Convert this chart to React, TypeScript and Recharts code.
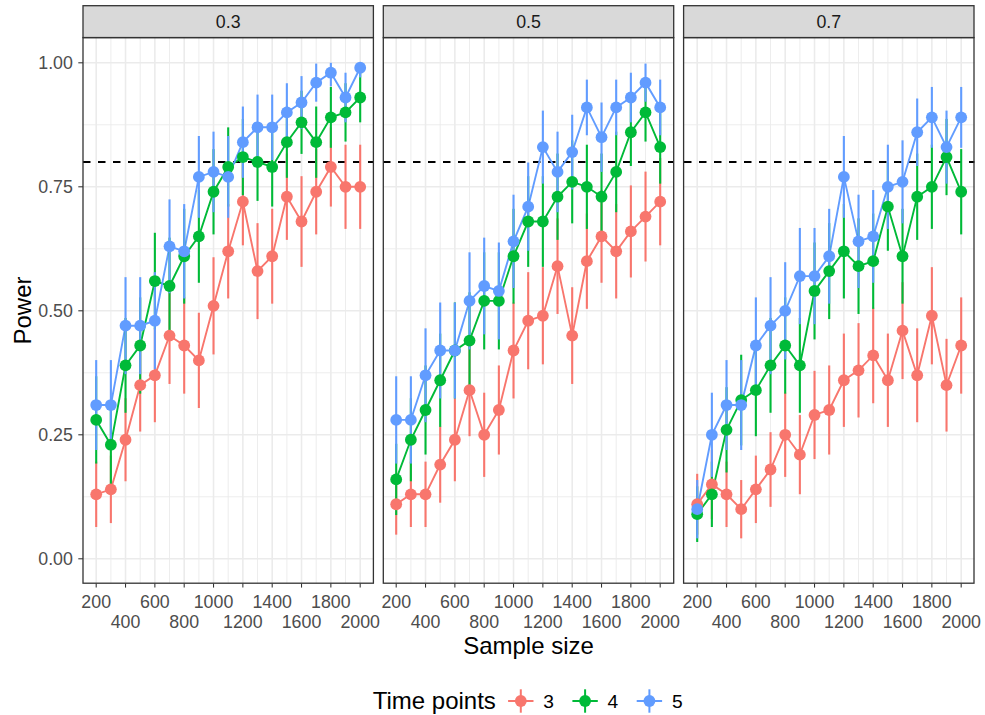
import React from 'react';
import { ComposedChart, Line, XAxis, YAxis, CartesianGrid, ReferenceLine, ErrorBar } from 'recharts';

// ---------------- data ----------------
const sampleSizes = [200, 300, 400, 500, 600, 700, 800, 900, 1000, 1100, 1200, 1300, 1400, 1500, 1600, 1700, 1800, 1900, 2000];
const facetLabels = ['0.3', '0.5', '0.7'];
const timePointLabels = ['3', '4', '5'];
const xTickValues = [200, 400, 600, 800, 1000, 1200, 1400, 1600, 1800, 2000];
const xMinorValues = [300, 500, 700, 900, 1100, 1300, 1500, 1700, 1900];
const yTickValues = [0, 0.25, 0.5, 0.75, 1];
const yMinorValues = [0.125, 0.375, 0.625, 0.875];
const powerTarget = 0.8;
const replications = 100; // simulations per cell -> 95% binomial interval for error bars

// facet 0.3
const power03tp3 = [0.13, 0.14, 0.24, 0.35, 0.37, 0.45, 0.43, 0.40, 0.51, 0.62, 0.72, 0.58, 0.61, 0.73, 0.68, 0.74, 0.79, 0.75, 0.75];
const power03tp4 = [0.28, 0.23, 0.39, 0.43, 0.56, 0.55, 0.61, 0.65, 0.74, 0.79, 0.81, 0.80, 0.79, 0.84, 0.88, 0.84, 0.89, 0.90, 0.93];
const power03tp5 = [0.31, 0.31, 0.47, 0.47, 0.48, 0.63, 0.62, 0.77, 0.78, 0.77, 0.84, 0.87, 0.87, 0.90, 0.92, 0.96, 0.98, 0.93, 0.99];
// facet 0.5
const power05tp3 = [0.11, 0.13, 0.13, 0.19, 0.24, 0.34, 0.25, 0.30, 0.42, 0.48, 0.49, 0.59, 0.45, 0.60, 0.65, 0.62, 0.66, 0.69, 0.72];
const power05tp4 = [0.16, 0.24, 0.30, 0.36, 0.42, 0.44, 0.52, 0.52, 0.61, 0.68, 0.68, 0.73, 0.76, 0.75, 0.73, 0.78, 0.86, 0.90, 0.83];
const power05tp5 = [0.28, 0.28, 0.37, 0.42, 0.42, 0.52, 0.55, 0.54, 0.64, 0.71, 0.83, 0.78, 0.82, 0.91, 0.85, 0.91, 0.93, 0.96, 0.91];
// facet 0.7
const power07tp3 = [0.11, 0.15, 0.13, 0.10, 0.14, 0.18, 0.25, 0.21, 0.29, 0.30, 0.36, 0.38, 0.41, 0.36, 0.46, 0.37, 0.49, 0.35, 0.43];
const power07tp4 = [0.09, 0.13, 0.26, 0.32, 0.34, 0.39, 0.43, 0.39, 0.54, 0.58, 0.62, 0.59, 0.60, 0.71, 0.61, 0.73, 0.75, 0.81, 0.74];
const power07tp5 = [0.10, 0.25, 0.31, 0.31, 0.43, 0.47, 0.50, 0.57, 0.57, 0.61, 0.77, 0.64, 0.65, 0.75, 0.76, 0.86, 0.89, 0.83, 0.89];

const facetSeries = [
  [power03tp3, power03tp4, power03tp5],
  [power05tp3, power05tp4, power05tp5],
  [power07tp3, power07tp4, power07tp5],
];

// ---------------- styles ----------------
const FONT = '"Liberation Sans", Arial, Helvetica, sans-serif';
const COLORS = ['#F8766D', '#00BA38', '#619CFF'];
const PANEL_LEFTS = [83, 383.3, 683.6];
const PANEL_W = 290.4;
const PLOT_TOP = 37.6;
const PLOT_H = 545.6;
const X_AXIS_H = 62;
const Y_AXIS_W = 83;
const STRIP_TOP = 5.7;
const TICK_FS = 17.8;
const TITLE_FS = 24;
const DOT_R = 5.9;

const keys = ['s3', 's4', 's5'];

function buildRows(series: number[][]) {
  return sampleSizes.map((n, i) => {
    const row: any = { n };
    series.forEach((vals, s) => {
      const p = vals[i];
      const half = 1.96 * Math.sqrt((p * (1 - p)) / replications);
      const lo = Math.max(0, p - half);
      const hi = Math.min(1, p + half);
      row[keys[s]] = p;
      row[keys[s] + 'e'] = [p - lo, hi - p];
    });
    return row;
  });
}

const XTick = (props: any) => {
  const { x, y, payload } = props;
  const v = payload.value as number;
  const firstRow = (v / 200) % 2 === 1;
  return (
    <text x={x} y={y + (firstRow ? 18.3 : 38.7)} textAnchor="middle" fill="#4D4D4D" fontSize={TICK_FS} fontFamily={FONT}>
      {v}
    </text>
  );
};

function FacetChart({ rows, left, showY }: { rows: any[]; left: number; showY: boolean }) {
  const chartLeft = showY ? left - Y_AXIS_W : left;
  const width = showY ? PANEL_W + Y_AXIS_W : PANEL_W;
  return (
    <div style={{ position: 'absolute', left: chartLeft, top: PLOT_TOP }}>
      <ComposedChart width={width} height={PLOT_H + X_AXIS_H} data={rows} margin={{ top: 0, right: 0, bottom: 0, left: 0 }}>
        <CartesianGrid stroke="#EBEBEB" strokeWidth={0.9} verticalValues={xMinorValues} horizontalValues={yMinorValues} />
        <CartesianGrid stroke="#EBEBEB" strokeWidth={1.6} verticalValues={xTickValues} horizontalValues={yTickValues} />
        <XAxis
          dataKey="n"
          type="number"
          domain={[110, 2090]}
          allowDataOverflow
          ticks={xTickValues}
          interval={0}
          axisLine={false}
          tickLine={{ stroke: '#333333', strokeWidth: 1.07 }}
          tickSize={4}
          tickMargin={2}
          height={X_AXIS_H}
          tick={(p: any) => <XTick {...p} />}
        />
        <YAxis
          type="number"
          domain={[-0.05, 1.05]}
          allowDataOverflow
          ticks={yTickValues}
          interval={0}
          hide={!showY}
          width={Y_AXIS_W}
          axisLine={false}
          tickLine={{ stroke: '#333333', strokeWidth: 1.07 }}
          tickSize={4.7}
          tickMargin={5.4}
          tickFormatter={(v: number) => v.toFixed(2)}
          tick={{ fill: '#4D4D4D', fontSize: TICK_FS, fontFamily: FONT }}
        />
        <ReferenceLine y={powerTarget} stroke="#000000" strokeWidth={1.9} strokeDasharray="7.5 7.5" />
        {keys.map((k, i) => (
          <Line key={'line' + k} type="linear" dataKey={k} stroke={COLORS[i]} strokeWidth={1.9} dot={false} activeDot={false} isAnimationActive={false} />
        ))}
        {keys.map((k, i) => (
          <Line key={'err' + k} type="linear" dataKey={k} stroke="none" dot={false} activeDot={false} isAnimationActive={false}>
            <ErrorBar dataKey={k + 'e'} width={0} stroke={COLORS[i]} strokeWidth={2.1} direction="y" isAnimationActive={false} />
          </Line>
        ))}
        {keys.map((k, i) => (
          <Line
            key={'pt' + k}
            type="linear"
            dataKey={k}
            stroke="none"
            dot={{ r: DOT_R, fill: COLORS[i], stroke: 'none', strokeWidth: 0 }}
            activeDot={false}
            isAnimationActive={false}
          />
        ))}
      </ComposedChart>
    </div>
  );
}

export default function App() {
  return (
    <div style={{ position: 'absolute', left: 0, top: 0, width: 985, height: 715, background: '#FFFFFF', fontFamily: FONT }}>
      <style>{`.recharts-surface{overflow:visible}`}</style>
      {facetSeries.map((series, f) => (
        <FacetChart key={facetLabels[f]} rows={buildRows(series)} left={PANEL_LEFTS[f]} showY={f === 0} />
      ))}
      <svg width={985} height={715} style={{ position: 'absolute', left: 0, top: 0, pointerEvents: 'none' }}>
        {facetLabels.map((lab, f) => (
          <g key={lab}>
            <rect x={PANEL_LEFTS[f]} y={STRIP_TOP} width={PANEL_W} height={PLOT_TOP - STRIP_TOP} fill="#D9D9D9" stroke="#333333" strokeWidth={1.3} />
            <text x={PANEL_LEFTS[f] + PANEL_W / 2} y={28} textAnchor="middle" fill="#1A1A1A" fontSize={TICK_FS} fontFamily={FONT}>
              {lab}
            </text>
            <rect x={PANEL_LEFTS[f]} y={PLOT_TOP} width={PANEL_W} height={PLOT_H} fill="none" stroke="#333333" strokeWidth={1.3} />
          </g>
        ))}
        <text x={528.5} y={653.5} textAnchor="middle" fill="#000000" fontSize={TITLE_FS} fontFamily={FONT}>
          Sample size
        </text>
        <text transform="translate(30.5,310.5) rotate(-90)" textAnchor="middle" fill="#000000" fontSize={TITLE_FS} fontFamily={FONT}>
          Power
        </text>
        <text x={372.7} y={708.5} fill="#000000" fontSize={TITLE_FS} fontFamily={FONT}>
          Time points
        </text>
        {timePointLabels.map((lab, i) => {
          const cx = 520.8 + i * 64.3;
          const cy = 701;
          return (
            <g key={lab}>
              <line x1={cx - 12.7} x2={cx + 12.7} y1={cy} y2={cy} stroke={COLORS[i]} strokeWidth={2} />
              <line x1={cx} x2={cx} y1={cy - 11.7} y2={cy + 11.7} stroke={COLORS[i]} strokeWidth={2} />
              <circle cx={cx} cy={cy} r={DOT_R} fill={COLORS[i]} />
              <text x={cx + 22.5} y={708} fill="#000000" fontSize={19.2} fontFamily={FONT}>
                {lab}
              </text>
            </g>
          );
        })}
      </svg>
    </div>
  );
}
